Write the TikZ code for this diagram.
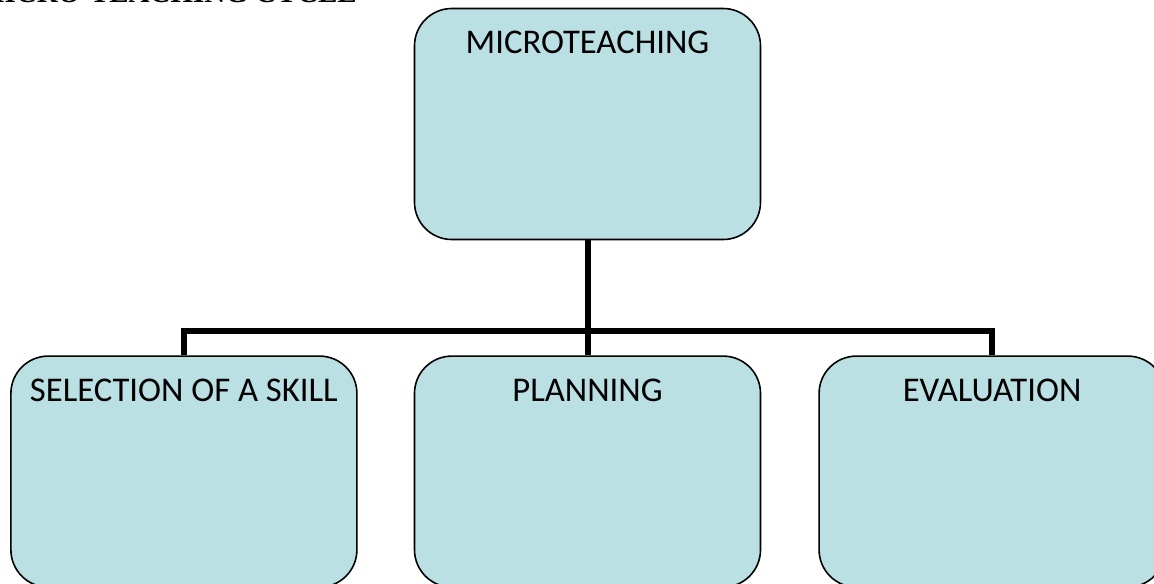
\documentclass[tikz,border=0pt]{standalone}
\usepackage{fontspec}
\setmainfont{Carlito}
\newfontfamily\headfont{Liberation Serif}
\usetikzlibrary{positioning}

\definecolor{boxfill}{RGB}{186,224,228}

\tikzset{
	box/.style = {draw, line width=1.2pt, fill=boxfill, rounded corners=28pt,
		minimum width=259.5pt, inner xsep=0pt, inner ysep=0pt,
		text height=33.75pt, text depth=139.5pt, anchor=center,
		font=\fontsize{26}{30}\selectfont},
	link/.style = {draw, line width=4.5pt, line join=miter},
	heading/.style = {inner sep=0pt, font=\headfont\bfseries\fontsize{21.75}{24}\selectfont},
}

\begin{document}
\begin{tikzpicture}[x=0.75pt, y=-0.75pt]
	
	\useasboundingbox (0,0) rectangle (1154,583);
	\clip (0,0) rectangle (1154,583);
	
	\node [heading, anchor=base east] (head) at (357,2.5) {MICRO-TEACHING CYCLE};
	
	\node [box] (micro) at (587.5,124) {MICROTEACHING};
	\node [box, below = 86.25pt of micro] (plan) {PLANNING};
	\node [box, left = 42pt of plan] (skill) {SELECTION OF A SKILL};
	\node [box, right = 42.75pt of plan] (eval) {EVALUATION};
	\coordinate [above = 18pt of plan.north] (hub);
	
	\draw [link] (micro.south) -- (plan.north);
	\draw [link] (skill.north) |- (hub) -| (eval.north);
	
\end{tikzpicture}
\end{document}
